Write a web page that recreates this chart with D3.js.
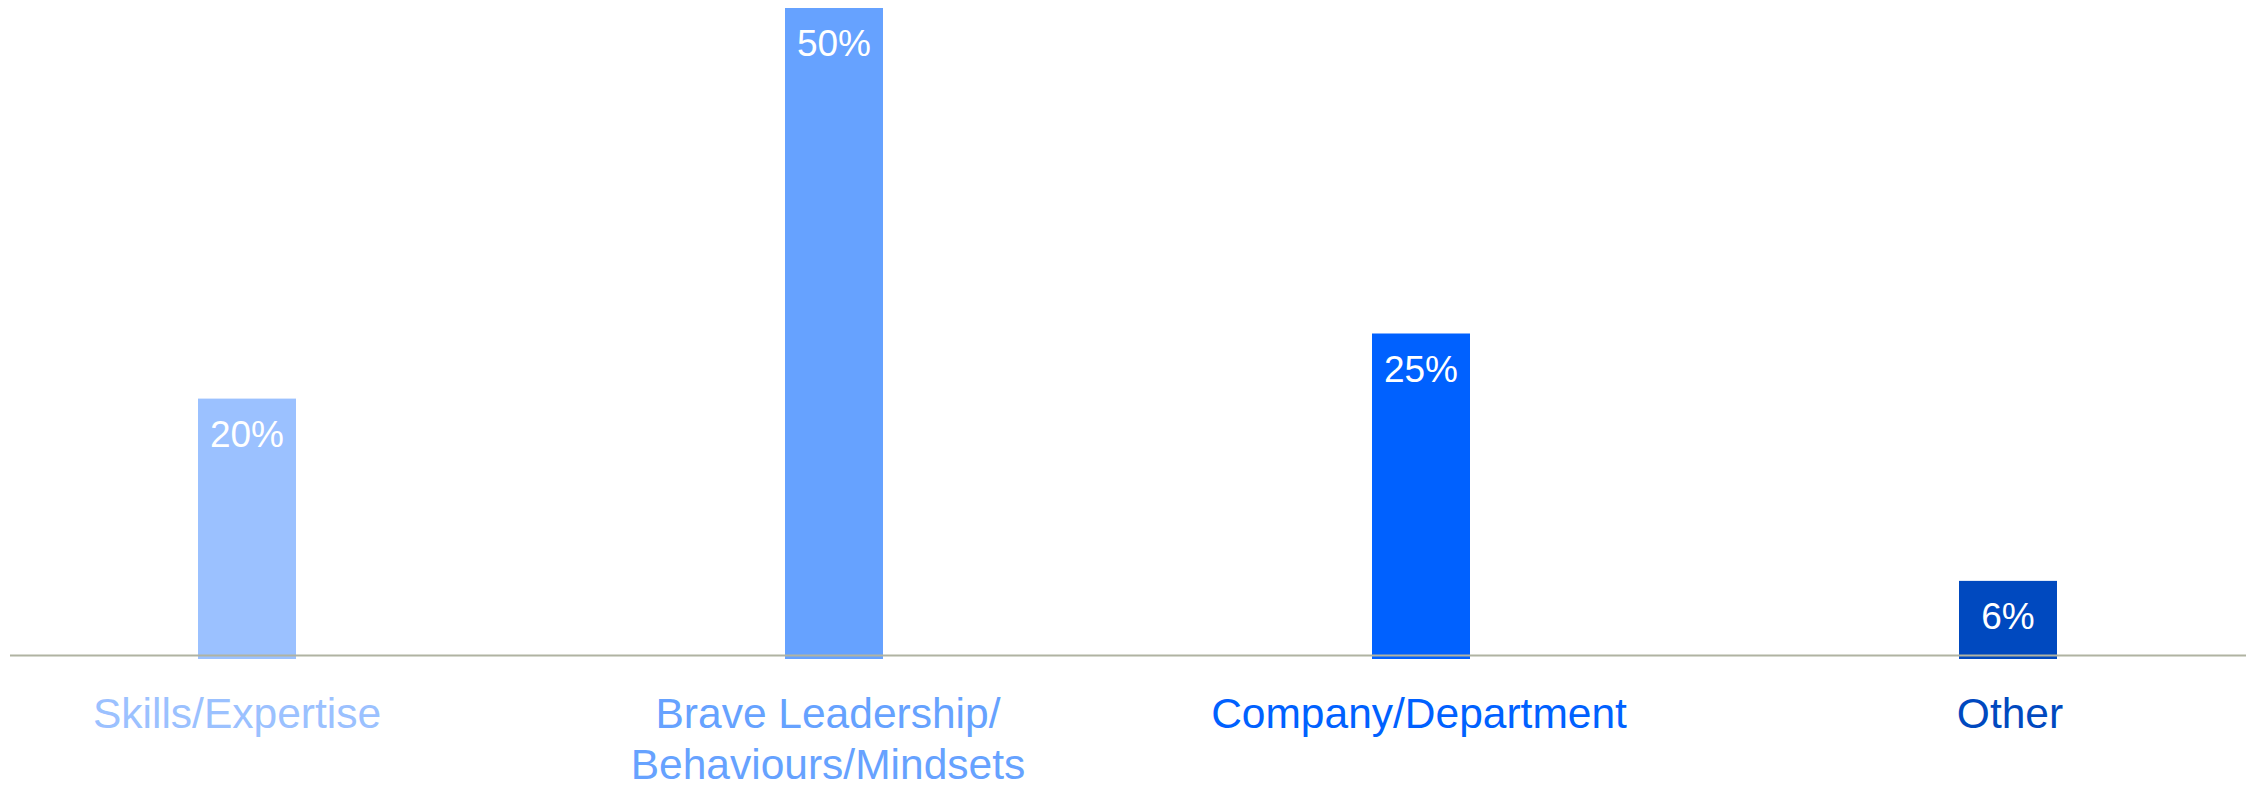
<!DOCTYPE html>
<html>
<head>
<script src="https://cdn.jsdelivr.net/npm/d3@7"></script>
<style>
  body { margin: 0; background: #fff; }
  text { font-family: "Liberation Sans", Arial, sans-serif; }
</style>
</head>
<body>
<div id="chart"></div>
<script>
// data
var categories = [["Skills/Expertise"], ["Brave Leadership/", "Behaviours/Mindsets"], ["Company/Department"], ["Other"]];
var values = [20, 50, 25, 6];
var barColors = ["#9bc1ff", "#66a2ff", "#0061ff", "#0049bf"];

const w = 2255;
const h = 786;

const svg = d3.select('#chart')
    .append('svg')
    .attr('width', w)
    .attr('height', h);

var keys = categories.map(c => c.join(' '));

var x = d3.scalePoint()
    .domain(keys)
    .range([247, 2008]);

// category labels sit on a slightly wider spread than the bars
var xLabel = d3.scalePoint()
    .domain(keys)
    .range([237, 2010]);

var y = d3.scaleLinear()
    .domain([0, 50])
    .range([659, 8]);

var barW = 98;

// bars
svg.selectAll('rect.bar')
    .data(values)
    .enter()
    .append('rect')
    .attr('class', 'bar')
    .attr('x', (d, i) => x(keys[i]) - barW / 2)
    .attr('y', d => y(d))
    .attr('width', barW)
    .attr('height', d => y(0) - y(d))
    .attr('fill', (d, i) => barColors[i]);

// baseline
svg.append('line')
    .attr('x1', 10)
    .attr('x2', 2246)
    .attr('y1', 655.5)
    .attr('y2', 655.5)
    .attr('stroke', '#b0b3a2')
    .attr('stroke-width', 2);

// value labels
svg.selectAll('text.val')
    .data(values)
    .enter()
    .append('text')
    .attr('class', 'val')
    .text(d => d + '%')
    .attr('x', (d, i) => x(keys[i]))
    .attr('y', d => y(d) + 48)
    .attr('fill', '#fff')
    .attr('font-size', '37px')
    .attr('text-anchor', 'middle');

// category labels
var cat = svg.selectAll('text.cat')
    .data(categories)
    .enter()
    .append('text')
    .attr('class', 'cat')
    .attr('x', (d, i) => xLabel(keys[i]))
    .attr('y', 728)
    .attr('fill', (d, i) => barColors[i])
    .attr('font-size', '42.5px')
    .attr('text-anchor', 'middle');

cat.selectAll('tspan')
    .data(d => d)
    .enter()
    .append('tspan')
    .attr('x', function() { return d3.select(this.parentNode).attr('x'); })
    .attr('dy', (d, i) => i === 0 ? 0 : 51)
    .text(d => d);
</script>
</body>
</html>
